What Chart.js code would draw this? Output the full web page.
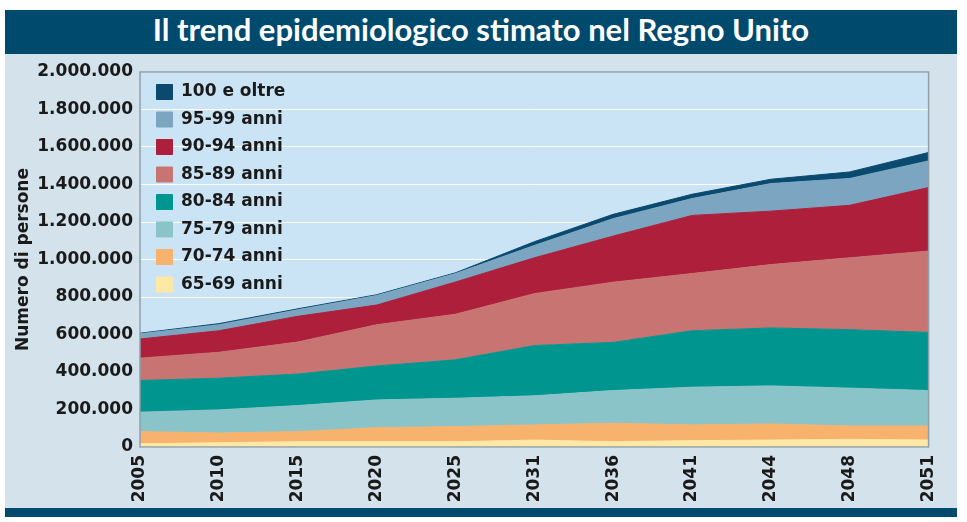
<!DOCTYPE html>
<html>
<head>
<meta charset="utf-8">
<script src="https://cdn.jsdelivr.net/npm/chart.js@4.4.0/dist/chart.umd.min.js"></script>
<style>
  html, body { margin: 0; padding: 0; background: #fff; }
  #panel { position: absolute; left: 5px; top: 10px; width: 952px; height: 507px; background: #d4e2ec; }
  #title { height: 44px; line-height: 44px; background: #004a6e; color: #fff; font: bold 31px Lato, sans-serif; text-align: center; }
  #wrap { position: absolute; left: 0; top: 44px; width: 952px; height: 454px; }
  #foot { position: absolute; left: 0; bottom: 0; width: 952px; height: 9px; background: #004a6e; }
</style>
</head>
<body>
<div id="panel">
  <div id="title">Il trend epidemiologico stimato nel Regno Unito</div>
  <div id="wrap"><canvas id="chart"></canvas></div>
  <div id="foot"></div>
</div>
<script>
const years = ['2005', '2010', '2015', '2020', '2025', '2031', '2036', '2041', '2044', '2048', '2051'];

// persone per fascia d'età
const anni65_69 = [17000, 23000, 28000, 28000, 28000, 37000, 28000, 34000, 37000, 41000, 37000];
const anni70_74 = [65000, 52000, 54000, 75000, 81000, 81000, 99000, 84000, 86000, 71000, 75000];
const anni75_79 = [104000, 123000, 139000, 148000, 151000, 155000, 174000, 201000, 203000, 202000, 189000];
const anni80_84 = [169000, 169000, 168000, 181000, 205000, 268000, 257000, 301000, 309000, 312000, 310000];
const anni85_89 = [119000, 138000, 171000, 220000, 243000, 277000, 321000, 305000, 338000, 383000, 434000];
const anni90_94 = [102000, 115000, 137000, 105000, 172000, 191000, 246000, 310000, 285000, 280000, 339000];
const anni95_99 = [28000, 32000, 35000, 51000, 45000, 66000, 93000, 90000, 147000, 143000, 142000];
const anni100 = [3000, 6000, 5000, 4000, 4000, 20000, 23000, 23000, 23000, 35000, 45000];

const seriesNames = ['65-69 anni', '70-74 anni', '75-79 anni', '80-84 anni', '85-89 anni', '90-94 anni', '95-99 anni', '100 e oltre'];
const seriesData = [anni65_69, anni70_74, anni75_79, anni80_84, anni85_89, anni90_94, anni95_99, anni100];
const seriesColors = ['#fde8a5', '#f7b26e', '#8ac4c8', '#00968f', '#c87472', '#ad1f3b', '#7ba5c0', '#0b4a6f'];

const yTicks = [0, 200000, 400000, 600000, 800000, 1000000, 1200000, 1400000, 1600000, 1800000, 2000000];

function formatIt(v) {
    return String(v).replace(/\B(?=(\d{3})+(?!\d))/g, '.');
}

const plotFrame = {
    id: 'plotFrame',
    afterLayout(chart) {
        // la legenda sta dentro l'area del grafico, in alto a sinistra
        const lg = chart.legend;
        lg.left = chart.chartArea.left + 6;
        lg.top = chart.chartArea.top + 1;
        lg.bottom = lg.top + lg.height;
    },
    beforeDraw(chart) {
        const { ctx, chartArea: a } = chart;
        ctx.save();
        ctx.fillStyle = '#cbe4f5';
        ctx.fillRect(a.left, a.top, a.right - a.left, a.bottom - a.top);
        ctx.restore();
    },
    afterDraw(chart) {
        const { ctx, chartArea: a } = chart;
        ctx.save();
        ctx.strokeStyle = '#8fa0ab';
        ctx.lineWidth = 1.5;
        ctx.strokeRect(a.left, a.top, a.right - a.left, a.bottom - a.top);
        ctx.restore();
    }
};

const font17 = { family: 'DejaVu Sans', weight: 'bold', size: 17 };

new Chart(document.getElementById('chart'), {
    type: 'line',
    data: {
        labels: years,
        datasets: seriesData.map((d, i) => ({
            label: seriesNames[i],
            data: d,
            backgroundColor: seriesColors[i],
            borderColor: seriesColors[i],
            borderWidth: 1,
            pointRadius: 0,
            tension: 0,
            fill: i === 0 ? 'origin' : '-1'
        }))
    },
    options: {
        responsive: true,
        maintainAspectRatio: false,
        animation: false,
        layout: { padding: { top: 18, right: 19, left: 0, bottom: 0 } },
        plugins: {
            legend: {
                position: 'chartArea',
                align: 'start',
                reverse: true,
                labels: {
                    boxWidth: 16,
                    boxHeight: 15,
                    padding: 10.5,
                    color: '#1a1a1a',
                    font: font17
                }
            },
            tooltip: { enabled: false }
        },
        scales: {
            x: {
                grid: { display: false, drawTicks: false },
                border: { display: false },
                ticks: {
                    autoSkip: false,
                    minRotation: 90,
                    maxRotation: 90,
                    padding: 8,
                    color: '#1a1a1a',
                    font: font17
                },
                afterFit(scale) { scale.height = 61; }
            },
            y: {
                stacked: true,
                min: 0,
                max: 2000000,
                grid: { color: '#ffffff', lineWidth: 1, drawTicks: false },
                border: { display: false },
                afterBuildTicks(scale) { scale.ticks = yTicks.map(v => ({ value: v })); },
                ticks: {
                    padding: 7,
                    color: '#1a1a1a',
                    font: font17,
                    callback: v => formatIt(v)
                },
                title: {
                    display: true,
                    text: 'Numero di persone',
                    color: '#1a1a1a',
                    font: font17,
                    padding: { top: 8, bottom: 0 }
                },
                afterFit(scale) { scale.width = 135; }
            }
        }
    },
    plugins: [plotFrame]
});
</script>
</body>
</html>
